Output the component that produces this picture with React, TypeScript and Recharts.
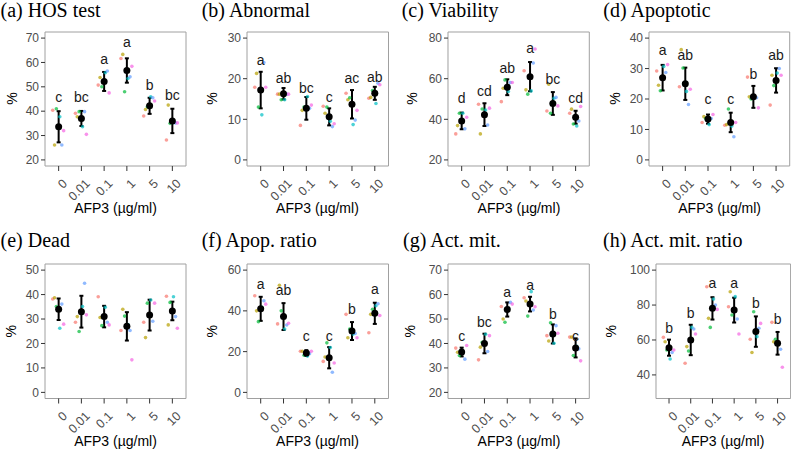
import React from "react";
import {
  ScatterChart,
  Scatter,
  XAxis,
  YAxis,
  ErrorBar,
  ReferenceArea,
} from "recharts";

// doses on the x axis
const doses = ["0", "0.01", "0.1", "1", "5", "10"];
// one colour per replicate (ggplot hue palette)
const replicateColors = ["#F8766D", "#B79F00", "#00BA38", "#00BFC4", "#619CFF", "#F564E3"];

// (a) HOS test
const hosPoints = [
  [40.4, 26.1, 41.0, 37.7, 26.1, 32.0],
  [39.1, 37.7, 39.8, 33.6, 39.8, 30.5],
  [50.7, 53.8, 50.0, 55.8, 56.5, 47.5],
  [61.6, 63.3, 48.0, 53.4, 54.1, 58.4],
  [38.0, 40.7, 41.8, 45.9, 45.5, 44.2],
  [28.2, 42.5, 35.0, 35.4, 35.2, 35.2],
];
const hosMean = [33.6, 37.0, 52.2, 56.7, 42.2, 36.0];
const hosErr = [6.4, 3.1, 3.9, 5.0, 3.3, 5.0];
const hosLetters = ["c", "bc", "a", "a", "b", "bc"];
const hosLetterY = [43.8, 43.8, 59.5, 66.3, 48.6, 44.5];

// (b) Abnormal
const abnPoints = [
  [17.9, 21.3, 13.0, 11.1, 24.0, 17.9],
  [16.2, 16.2, 14.8, 14.8, 16.2, 16.2],
  [8.5, 12.2, 13.0, 15.6, 12.7, 13.5],
  [13.2, 11.5, 13.0, 9.5, 8.2, 8.9],
  [16.4, 14.8, 15.3, 8.7, 9.8, 12.2],
  [15.2, 15.4, 17.1, 13.9, 18.9, 18.5],
];
const abnMean = [17.2, 16.3, 12.7, 10.6, 13.7, 16.4];
const abnErr = [4.5, 1.4, 2.8, 2.1, 3.5, 1.6];
const abnLetters = ["a", "ab", "bc", "c", "ac", "ab"];
const abnLetterY = [23.3, 18.9, 16.6, 14.2, 18.9, 19.3];

// (c) Viability
const viaPoints = [
  [32.8, 36.9, 43.0, 43.0, 35.3, 41.0],
  [47.4, 32.8, 45.1, 44.6, 37.2, 45.5],
  [48.7, 55.3, 59.4, 53.7, 58.1, 58.1],
  [63.9, 54.5, 52.4, 54.0, 67.7, 74.6],
  [44.1, 57.3, 43.0, 50.4, 50.8, 46.6],
  [43.0, 45.0, 37.7, 36.7, 39.2, 46.3],
];
const viaMean = [39.2, 42.3, 55.8, 61.0, 47.8, 41.0];
const viaErr = [4.1, 5.6, 3.9, 7.2, 5.6, 3.2];
const viaLetters = ["d", "cd", "ab", "a", "bc", "cd"];
const viaLetterY = [48.0, 51.7, 62.7, 72.6, 57.5, 48.0];

// (d) Apoptotic
const apoPoints = [
  [29.2, 24.5, 22.7, 30.7, 28.7, 31.3],
  [24.0, 36.2, 30.2, 22.5, 18.2, 23.2],
  [12.3, 14.2, 13.6, 11.6, 13.6, 14.9],
  [11.4, 11.6, 16.7, 11.1, 7.6, 12.3],
  [27.2, 20.7, 20.0, 20.6, 20.4, 17.1],
  [18.0, 27.8, 24.4, 28.5, 30.0, 27.8],
];
const apoMean = [27.0, 25.0, 13.4, 12.3, 20.7, 26.1];
const apoErr = [4.2, 5.3, 1.5, 3.2, 3.6, 4.0];
const apoLetters = ["a", "ab", "c", "c", "b", "ab"];
const apoLetterY = [34.3, 32.9, 18.3, 18.3, 26.7, 32.7];

// (e) Dead
const deadPoints = [
  [38.2, 38.7, 35.1, 26.2, 36.1, 27.9],
  [28.7, 31.0, 24.9, 35.1, 44.6, 31.7],
  [39.1, 30.6, 27.3, 34.8, 28.7, 27.6],
  [25.3, 34.0, 31.2, 27.7, 25.3, 13.3],
  [28.7, 22.4, 36.5, 37.8, 29.1, 36.5],
  [39.3, 27.6, 36.8, 39.1, 31.0, 26.2],
];
const deadMean = [34.0, 33.0, 31.0, 27.0, 31.6, 33.3];
const deadErr = [4.4, 6.5, 4.4, 5.8, 6.3, 3.8];

// (f) Apop. ratio
const ratioPoints = [
  [47.4, 40.0, 34.7, 41.7, 45.0, 43.3],
  [33.6, 52.6, 40.0, 31.1, 33.1, 33.9],
  [20.2, 20.2, 18.2, 17.8, 19.0, 20.2],
  [15.2, 17.4, 24.3, 22.0, 9.9, 14.4],
  [38.3, 26.8, 31.1, 28.6, 28.9, 26.8],
  [29.3, 38.3, 40.8, 42.5, 43.5, 37.7],
];
const ratioMean = [41.0, 37.2, 19.3, 17.0, 30.1, 38.8];
const ratioErr = [5.9, 6.6, 1.4, 5.2, 4.4, 5.2];
const ratioLetters = ["a", "ab", "c", "c", "b", "a"];
const ratioLetterY = [50.7, 47.9, 25.3, 25.3, 38.3, 48.3];

// (g) Act. mit.
const mitPoints = [
  [38.1, 36.4, 35.1, 36.4, 33.6, 39.2],
  [33.3, 38.5, 40.5, 43.8, 36.7, 43.2],
  [55.1, 50.0, 48.7, 54.4, 56.8, 56.1],
  [58.7, 57.4, 51.2, 61.2, 53.7, 55.0],
  [43.2, 41.0, 48.5, 40.1, 47.3, 44.2],
  [42.6, 42.6, 35.1, 38.8, 37.8, 32.9],
];
const mitMean = [36.5, 40.0, 53.9, 56.1, 43.9, 38.2];
const mitErr = [1.8, 4.0, 2.9, 3.0, 3.9, 3.9];
const mitLetters = ["c", "bc", "a", "a", "b", "c"];
const mitLetterY = [41.2, 46.9, 59.1, 61.8, 50.0, 41.2];

// (h) Act. mit. ratio
const amrPoints = [
  [61.5, 59.0, 54.3, 49.1, 52.8, 54.3],
  [46.7, 56.2, 53.7, 67.2, 66.3, 63.4],
  [90.5, 72.4, 67.2, 83.4, 80.0, 77.5],
  [79.0, 87.6, 74.3, 84.8, 72.0, 63.4],
  [60.4, 52.8, 76.2, 61.9, 66.7, 69.5],
  [70.1, 59.0, 60.4, 58.0, 54.7, 44.4],
];
const amrMean = [55.6, 60.0, 78.1, 77.1, 64.8, 58.1];
const amrErr = [4.6, 8.7, 6.4, 7.1, 8.7, 6.5];
const amrLetters = ["b", "b", "a", "a", "b", "b"];
const amrLetterY = [63.8, 72.4, 89.5, 89.5, 78.1, 69.0];

// horizontal dodge of each replicate inside a dose group
const dodge = [-0.26, -0.18, -0.1, 0.05, 0.14, 0.22];

const SANS = '"Liberation Sans", Arial, sans-serif';
const SERIF = '"Liberation Serif", "DejaVu Serif", "Times New Roman", serif';

const panels = [
  { title: "(a) HOS test", points: hosPoints, mean: hosMean, err: hosErr, letters: hosLetters, letterY: hosLetterY,
    yDomain: [17.5, 72.5], yTicks: [20, 30, 40, 50, 60, 70],
    left: 45, top: 31.5, w: 141, h: 134, titleX: 0.5, titleY: 17, pctX: 12 },
  { title: "(b) Abnormal", points: abnPoints, mean: abnMean, err: abnErr, letters: abnLetters, letterY: abnLetterY,
    yDomain: [-1.5, 31.5], yTicks: [0, 10, 20, 30],
    left: 246.7, top: 31.5, w: 141.5, h: 134, titleX: 201.7, titleY: 17, pctX: 212 },
  { title: "(c) Viability", points: viaPoints, mean: viaMean, err: viaErr, letters: viaLetters, letterY: viaLetterY,
    yDomain: [17, 83], yTicks: [20, 40, 60, 80],
    left: 448.3, top: 31.5, w: 141.3, h: 134, titleX: 401.7, titleY: 17, pctX: 412 },
  { title: "(d) Apoptotic", points: apoPoints, mean: apoMean, err: apoErr, letters: apoLetters, letterY: apoLetterY,
    yDomain: [-2, 42], yTicks: [0, 10, 20, 30, 40],
    left: 649.3, top: 31.5, w: 140.7, h: 134, titleX: 603.3, titleY: 17, pctX: 615 },
  { title: "(e) Dead", points: deadPoints, mean: deadMean, err: deadErr, letters: [], letterY: [],
    yDomain: [-2.5, 52.5], yTicks: [0, 10, 20, 30, 40, 50],
    left: 45, top: 264, w: 141, h: 134.5, titleX: 0.5, titleY: 247, pctX: 11 },
  { title: "(f) Apop. ratio", points: ratioPoints, mean: ratioMean, err: ratioErr, letters: ratioLetters, letterY: ratioLetterY,
    yDomain: [-3, 63], yTicks: [0, 20, 40, 60],
    left: 246.7, top: 264, w: 141.5, h: 134.5, titleX: 201.7, titleY: 247, pctX: 212 },
  { title: "(g) Act. mit.", points: mitPoints, mean: mitMean, err: mitErr, letters: mitLetters, letterY: mitLetterY,
    yDomain: [17.5, 72.5], yTicks: [20, 30, 40, 50, 60, 70],
    left: 448.3, top: 264, w: 141.3, h: 134.5, titleX: 403, titleY: 247, pctX: 410 },
  { title: "(h) Act. mit. ratio", points: amrPoints, mean: amrMean, err: amrErr, letters: amrLetters, letterY: amrLetterY,
    yDomain: [26.5, 103.5], yTicks: [40, 60, 80, 100],
    left: 655.7, top: 264, w: 134.6, h: 134.5, titleX: 603, titleY: 247, pctX: 611 },
];

const Y_W = 40;
const M_TOP = 4;
const M_RIGHT = 1;
const X_H = 40;

function DoseTick(props: any) {
  const { x, y, payload } = props;
  return (
    <g transform={`translate(${x + 3},${y + 5})`}>
      <text
        transform="rotate(-45)"
        textAnchor="end"
        dy="0.71em"
        style={{ fontSize: 12.5, fontFamily: SANS, fill: "#4d4d4d" }}
      >
        {doses[payload.value]}
      </text>
    </g>
  );
}

function Panel({ p }: { p: any }) {
  const reps = replicateColors.map((color, r) => ({
    color,
    data: p.points.map((g: number[], gi: number) => ({ x: gi + dodge[r], y: g[r] })),
  }));
  const means = p.mean.map((m: number, gi: number) => ({ x: gi, y: m, err: p.err[gi] }));
  const letters = p.letters.map((l: string, gi: number) => ({ x: gi, y: p.letterY[gi], label: l }));

  return (
    <div style={{ position: "absolute", left: p.left - Y_W, top: p.top - M_TOP }}>
      <ScatterChart
        width={Y_W + p.w + M_RIGHT}
        height={M_TOP + p.h + X_H}
        margin={{ top: M_TOP, right: M_RIGHT, left: 0, bottom: 0 }}
      >
        <XAxis
          type="number"
          dataKey="x"
          domain={[-0.6, 5.6]}
          ticks={[0, 1, 2, 3, 4, 5]}
          interval={0}
          allowDataOverflow
          axisLine={false}
          tickSize={5}
          tickLine={{ stroke: "#333" }}
          tick={<DoseTick />}
          height={X_H}
        />
        <YAxis
          type="number"
          dataKey="y"
          domain={p.yDomain}
          ticks={p.yTicks}
          interval={0}
          allowDataOverflow
          axisLine={false}
          tickSize={4}
          tickLine={{ stroke: "#333" }}
          tick={{ fontSize: 12, fill: "#4d4d4d", fontFamily: SANS }}
          width={Y_W}
        />
        <ReferenceArea
          x1={-0.6}
          x2={5.6}
          y1={p.yDomain[0]}
          y2={p.yDomain[1]}
          fill="none"
          fillOpacity={0}
          stroke="#a0a0a0"
          strokeWidth={1}
        />
        {reps.map((rep) => (
          <Scatter
            key={rep.color}
            data={rep.data}
            isAnimationActive={false}
            shape={(s: any) => (
              <circle cx={s.cx} cy={s.cy} r={1.8} fill={rep.color} fillOpacity={0.7} />
            )}
          />
        ))}
        <Scatter
          data={means}
          isAnimationActive={false}
          shape={(s: any) => <circle cx={s.cx} cy={s.cy} r={3.5} fill="#000" />}
        >
          <ErrorBar dataKey="err" direction="y" width={2} stroke="#000" strokeWidth={2} />
        </Scatter>
        <Scatter
          data={letters}
          isAnimationActive={false}
          shape={(s: any) => (
            <text x={s.cx} y={s.cy} textAnchor="middle" style={{ fontSize: 14, fontFamily: SANS, fill: "#1a1a1a" }}>
              {s.payload.label}
            </text>
          )}
        />
      </ScatterChart>
    </div>
  );
}

export default function App() {
  return (
    <div style={{ position: "absolute", left: 0, top: 0, width: 791, height: 449, background: "#fff", overflow: "hidden" }}>
      {panels.map((p) => (
        <Panel key={p.title} p={p} />
      ))}
      <svg
        width={791}
        height={449}
        style={{ position: "absolute", left: 0, top: 0, pointerEvents: "none" }}
      >
        {panels.map((p) => (
          <g key={p.title}>
            <text x={p.titleX} y={p.titleY} style={{ fontSize: 20, fontFamily: SERIF, fill: "#000" }}>
              {p.title}
            </text>
            <text
              x={p.pctX}
              y={p.top + p.h / 2}
              transform={`rotate(-90 ${p.pctX} ${p.top + p.h / 2})`}
              textAnchor="middle"
              dominantBaseline="central"
              style={{ fontSize: 14, fontFamily: SANS, fill: "#000" }}
            >
              %
            </text>
            <text
              x={p.left + p.w / 2}
              y={p.top + p.h + 47.5}
              textAnchor="middle"
              style={{ fontSize: 14, fontFamily: SANS, fill: "#000" }}
            >
              AFP3 (µg/ml)
            </text>
          </g>
        ))}
      </svg>
    </div>
  );
}
